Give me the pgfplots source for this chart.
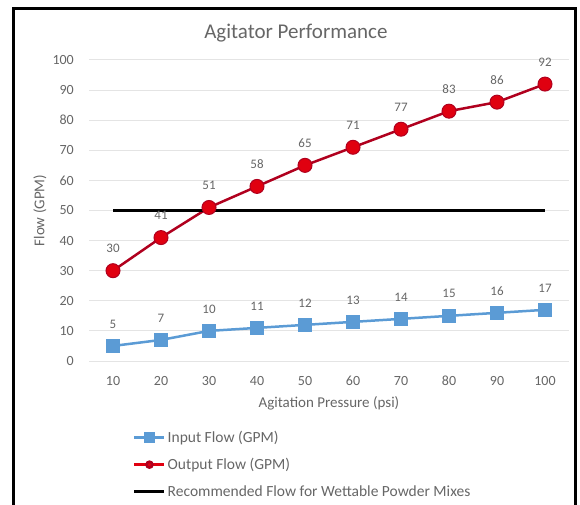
\documentclass[border=0pt]{standalone}
\usepackage{pgfplots}
\pgfplotsset{compat=1.18}
\usepackage{fontspec}
\setmainfont{Carlito}
\definecolor{inblue}{HTML}{5B9BD5}
\definecolor{outred}{HTML}{B0001E}
\definecolor{outfill}{HTML}{E00010}
\definecolor{txtgray}{HTML}{666666}
\definecolor{gridgray}{HTML}{E4E4E4}
\begin{document}
\begin{tikzpicture}
\useasboundingbox (0,0) rectangle (580bp,505bp);
\draw[line width=3bp] (13bp,-2bp) -- (13bp,496bp) -- (575bp,496bp) -- (575bp,-2bp);
\begin{axis}[
  at={(89bp,144bp)}, anchor=south west,
  scale only axis, width=480bp, height=301bp,
  xmin=5, xmax=105, ymin=0, ymax=100,
  xtick={10,20,...,100}, ytick={0,10,...,100},
  axis line style={draw=none},
  major tick length=0pt,
  ymajorgrids, grid style={gridgray, line width=1bp},
  /pgf/number format/assume math mode=true,
  ticklabel style={font=\fontsize{14bp}{16bp}\selectfont, text=txtgray},
  xticklabel style={anchor=base, yshift=-24bp},
  yticklabel style={anchor=east, inner sep=0pt, xshift=-15bp},
  title={Agitator Performance},
  title style={at={(axis description cs:0.431,1.068)}, anchor=center, font=\fontsize{21bp}{23bp}\selectfont, text=txtgray},
  xlabel={Agitation Pressure (psi)},
  xlabel style={at={(axis description cs:0.5,-0.1395)}, anchor=center, font=\fontsize{15bp}{17bp}\selectfont, text=txtgray},
  ylabel={Flow (GPM)},
  ylabel style={at={(axis description cs:-0.102,0.5)}, anchor=center, font=\fontsize{15bp}{17bp}\selectfont, text=txtgray},
  legend style={at={(axis description cs:0.0917,-0.225)}, anchor=north west, draw=none, fill=none, inner sep=0pt, row sep=10.5bp, font=\fontsize{15.5bp}{17bp}\selectfont, text=txtgray},
  legend cell align=left,
  legend image code/.code={\draw[mark repeat=2,mark phase=2,#1] plot coordinates {(0bp,0bp) (15bp,0bp) (30bp,0bp)};},
  nodes near coords,
  every node near coord/.append style={font=\fontsize{13bp}{15bp}\selectfont, text=txtgray, anchor=center, yshift=22bp},
]
\addplot[inblue, line width=2.5bp, mark=square*, mark size=6bp, mark options={fill=inblue, draw=inblue}, forget plot] coordinates {
(10,5) (20,7) (30,10) (40,11) (50,12) (60,13) (70,14) (80,15) (90,16) (100,17)};
\addplot[outred, line width=2.5bp, mark=*, mark size=7bp, mark options={fill=outfill, draw=outred, line width=1bp}, forget plot] coordinates {
(10,30) (20,41) (30,51) (40,58) (50,65) (60,71) (70,77) (80,83) (90,86) (100,92)};
\addplot[black, line width=2.5bp, forget plot, nodes near coords={}] coordinates {(10,50) (100,50)};
\addlegendimage{inblue, line width=2.5bp, mark=square*, mark size=4bp, mark options={fill=inblue}}
\addlegendentry{Input Flow (GPM)}
\addlegendimage{outfill, line width=2.5bp, mark=*, mark size=3bp, mark options={fill=outfill, draw=outred}}
\addlegendentry{Output Flow (GPM)}
\addlegendimage{black, line width=2.5bp}
\addlegendentry{Recommended Flow for Wettable Powder Mixes}
\end{axis}
\end{tikzpicture}
\end{document}
